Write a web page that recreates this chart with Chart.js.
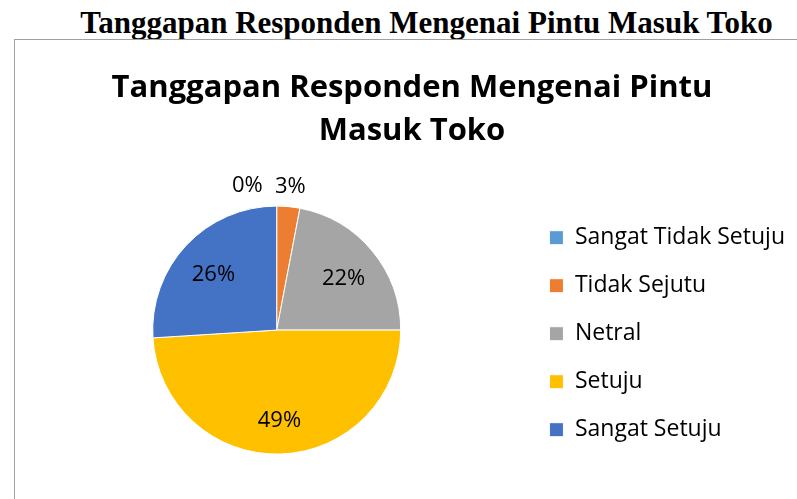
<!DOCTYPE html>
<html>
<head>
<meta charset="utf-8">
<script src="https://cdn.jsdelivr.net/npm/chart.js@4"></script>
<style>
  html, body { margin: 0; padding: 0; background: #fff; }
  body { width: 797px; height: 499px; position: relative; overflow: hidden; }
  #heading {
    position: absolute; left: 0; top: 5px; width: 853px; text-align: center;
    font-family: "Liberation Serif", "Times New Roman", serif; font-weight: bold;
    font-size: 31px; line-height: 36px; color: #000; white-space: nowrap;
  }
  #box {
    position: absolute; left: 14px; top: 39px; width: 800px; height: 500px;
    border: 1px solid #a0a0a0;
  }
  #wrap { position: absolute; left: 15px; top: 41px; width: 794px; height: 458px; }
</style>
</head>
<body>
<div id="heading">Tanggapan Responden Mengenai Pintu Masuk Toko</div>
<div id="box"></div>
<div id="wrap"><canvas id="pie"></canvas></div>
<script>
// ── Data ──────────────────────────────────────────────────────────────────────

const CATEGORIES = ['Sangat Tidak Setuju', 'Tidak Sejutu', 'Netral', 'Setuju', 'Sangat Setuju'];
const PERCENTS   = [0, 3, 22, 49, 26];
const COLORS     = ['#5B9BD5', '#ED7D31', '#A5A5A5', '#FFC000', '#4472C4'];
const TITLE      = ['Tanggapan Responden Mengenai Pintu', 'Masuk Toko'];

const FONT = '"Open Sans", "Noto Sans", sans-serif';

// ── Labels ────────────────────────────────────────────────────────────────────

const pctLabels = {
  id: 'pctLabels',
  afterDatasetsDraw(chart) {
    const { ctx } = chart;
    const meta = chart.getDatasetMeta(0);
    ctx.save();
    ctx.font = `22px ${FONT}`;
    ctx.fillStyle = '#000';
    ctx.textBaseline = 'middle';
    meta.data.forEach((arc, i) => {
      const v = PERCENTS[i];
      const { x, y, startAngle, endAngle, outerRadius } = arc.getProps(
        ['x', 'y', 'startAngle', 'endAngle', 'outerRadius'], true);
      const mid = (startAngle + endAngle) / 2;
      let r = outerRadius * 0.7;
      let align = 'center';
      let dx = 0;
      let dy = 4;
      if (v < 5) {
        r = outerRadius + 20;
        dy = 0;
        if (v === 0) { align = 'right'; dx = -14; }
      }
      ctx.textAlign = align;
      ctx.fillText(`${v}%`, x + Math.cos(mid) * r + dx, y + Math.sin(mid) * r + dy);
    });
    ctx.restore();
  },
};

// ── Chart ─────────────────────────────────────────────────────────────────────

new Chart(document.getElementById('pie'), {
  type: 'pie',
  data: {
    labels: CATEGORIES,
    datasets: [{
      data: PERCENTS,
      backgroundColor: COLORS,
      borderColor: '#fff',
      borderWidth: 1,
      radius: 124,
    }],
  },
  options: {
    responsive: true,
    maintainAspectRatio: false,
    animation: false,
    layout: { padding: { top: 0, bottom: 0, left: 14, right: 14 } },
    plugins: {
      title: {
        display: true,
        text: TITLE,
        color: '#000',
        font: { family: FONT, size: 31, weight: 'bold', lineHeight: 1.39 },
        padding: { top: 26, bottom: 8 },
      },
      legend: {
        position: 'right',
        align: 'start',
        title: {
          display: true,
          text: '',
          font: { size: 1 },
          padding: { top: 159, bottom: 0 },
        },
        labels: {
          color: '#000',
          font: { family: FONT, size: 23 },
          boxWidth: 14,
          boxHeight: 14,
          padding: 25,
        },
      },
      tooltip: { enabled: false },
    },
  },
  plugins: [pctLabels],
});
</script>
</body>
</html>
